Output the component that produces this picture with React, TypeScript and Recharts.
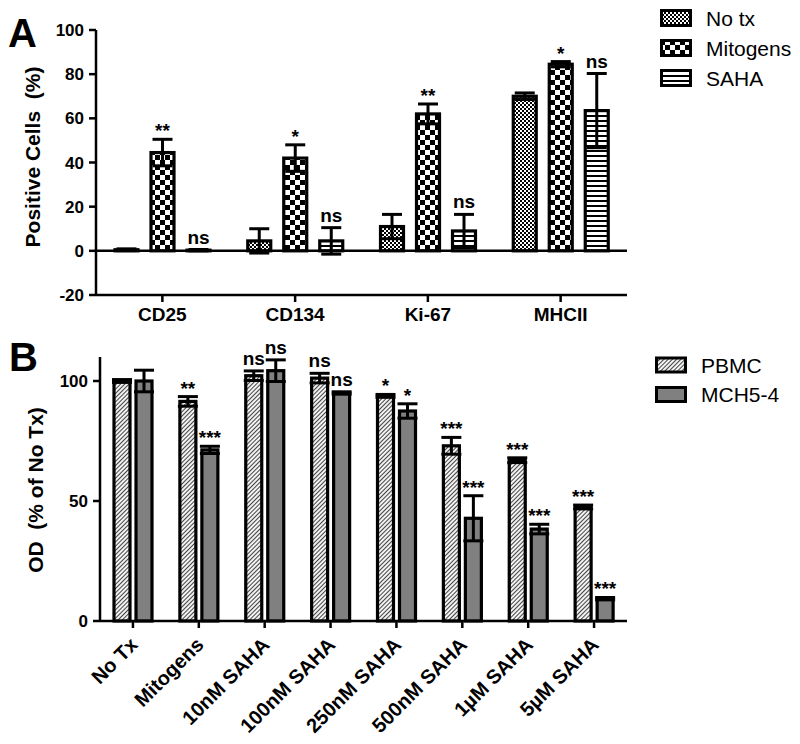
import React from "react";
import { BarChart, Bar, XAxis, YAxis, ErrorBar, ReferenceLine } from "recharts";

const FONT = "'Liberation Sans', Arial, Helvetica, sans-serif";

// Panel A
const catsA = ["CD25", "CD134", "Ki-67", "MHCII"];
const noTxA = [0.5, 4.5, 11, 70];
const noTxErrA = [0.4, 5.5, 5.5, 1.5];
const noTxSigA = ["", "", "", ""];
const mitoA = [44.5, 42, 62, 84.5];
const mitoErrA = [6, 6, 4.5, 1.2];
const mitoSigA = ["**", "*", "**", "*"];
const sahaA = [0.3, 4.5, 9, 63.5];
const sahaErrA = [0.3, 6, 7.5, 16.8];
const sahaSigA = ["ns", "ns", "ns", "ns"];
const ticksA = [-20, 0, 20, 40, 60, 80, 100];

// Panel B
const catsB = ["No Tx", "Mitogens", "10nM SAHA", "100nM SAHA", "250nM SAHA", "500nM SAHA", "1µM SAHA", "5µM SAHA"];
const pbmc = [100, 91.5, 102.2, 101.2, 93.8, 73, 67, 47.5];
const pbmcErr = [0.6, 2, 2, 2, 0.6, 3.5, 1, 0.8];
const pbmcSig = ["", "**", "ns", "ns", "*", "***", "***", "***"];
const mch = [100, 71.3, 104.3, 95, 87.5, 42.8, 38.3, 9.3];
const mchErr = [4.5, 1.5, 4.5, 0.5, 3, 9.4, 2, 0.5];
const mchSig = ["", "***", "ns", "ns", "*", "***", "***", "***"];
const ticksB = [0, 50, 100];

const dataA = catsA.map((cat, i) => ({
  cat,
  noTx: noTxA[i], noTxErr: noTxErrA[i], noTxSig: noTxSigA[i],
  mito: mitoA[i], mitoErr: mitoErrA[i], mitoSig: mitoSigA[i],
  saha: sahaA[i], sahaErr: sahaErrA[i], sahaSig: sahaSigA[i],
}));

const dataB = catsB.map((cat, i) => ({
  cat,
  pbmc: pbmc[i], pbmcErr: pbmcErr[i], pbmcSig: pbmcSig[i],
  mch: mch[i], mchErr: mchErr[i], mchSig: mchSig[i],
}));

const axisStroke = { stroke: "#000", strokeWidth: 2.5 };

// bar rect + significance text above the error bar
function makeShape(key: string, plotTop: number, domMax: number) {
  return (props: any) => {
    const { x, y, width, height, fill, payload } = props;
    const base = y + height;
    const ppu = (base - plotTop) / domMax;
    const errTop = y - (payload[key + "Err"] || 0) * ppu;
    const sig: string = payload[key + "Sig"] || "";
    const off = sig.startsWith("*") ? 2 : 6;
    return (
      <g>
        <rect x={x} y={y} width={width} height={Math.max(height, 0)} fill={fill} stroke="#000" strokeWidth={3.2} />
        {sig && (
          <text x={x + width / 2} y={errTop - off} textAnchor="middle" fontSize={19} fontWeight="bold" fontFamily={FONT} fill="#000">
            {sig}
          </text>
        )}
      </g>
    );
  };
}

const AngledTick = (props: any) => {
  const { x, y, payload } = props;
  const ax = x + 6;
  const ay = y + 16;
  return (
    <text x={ax} y={ay} transform={`rotate(-45, ${ax}, ${ay})`} textAnchor="end" fontSize={20} fontWeight="bold" fontFamily={FONT} fill="#000">
      {payload.value}
    </text>
  );
};

const Patterns = () => (
  <svg width={0} height={0} style={{ position: "absolute" }}>
    <defs>
      <pattern id="fineCheck" width={4} height={4} patternUnits="userSpaceOnUse">
        <rect width={4} height={4} fill="#fff" />
        <rect x={0} y={0} width={2} height={2} fill="#000" />
        <rect x={2} y={2} width={2} height={2} fill="#000" />
      </pattern>
      <pattern id="bigCheck" width={10} height={10} patternUnits="userSpaceOnUse">
        <rect width={10} height={10} fill="#fff" />
        <rect x={0} y={0} width={5} height={5} fill="#000" />
        <rect x={5} y={5} width={5} height={5} fill="#000" />
      </pattern>
      <pattern id="hStripes" width={5} height={5} patternUnits="userSpaceOnUse">
        <rect width={5} height={5} fill="#fff" />
        <rect x={0} y={0} width={5} height={2} fill="#000" />
      </pattern>
      <pattern id="diagHatch" width={3} height={3} patternUnits="userSpaceOnUse" patternTransform="rotate(45)">
        <rect width={3} height={3} fill="#f2f2f2" />
        <line x1={0.5} y1={0} x2={0.5} y2={3} stroke="#444" strokeWidth={1} />
      </pattern>
    </defs>
  </svg>
);

const legendA = [
  { name: "No tx", fill: "url(#fineCheck)" },
  { name: "Mitogens", fill: "url(#bigCheck)" },
  { name: "SAHA", fill: "url(#hStripes)" },
];
const legendB = [
  { name: "PBMC", fill: "url(#diagHatch)" },
  { name: "MCH5-4", fill: "#808080" },
];

export default function App() {
  return (
    <div style={{ position: "absolute", left: 0, top: 0, width: 800, height: 744, background: "#fff", fontFamily: FONT }}>
      <Patterns />
      <div style={{ position: "absolute", left: 0, top: 0 }}>
        <BarChart width={640} height={330} data={dataA} margin={{ top: 30, right: 13, left: 0, bottom: 0 }} barSize={23} barGap={13}>
          <XAxis dataKey="cat" interval={0} height={35} axisLine={axisStroke} tickLine={axisStroke} tickSize={7} tickMargin={6}
            tick={{ fill: "#000", fontSize: 19, fontWeight: "bold", fontFamily: FONT }} />
          <YAxis domain={[-20, 100]} ticks={ticksA} width={96} axisLine={axisStroke} tickLine={axisStroke} tickSize={7} tickMargin={5}
            tick={{ fill: "#000", fontSize: 17, fontWeight: "bold", fontFamily: FONT }} />
          <ReferenceLine y={0} stroke="#000" strokeWidth={2.5} />
          <Bar dataKey="noTx" fill="url(#fineCheck)" shape={makeShape("noTx", 30, 100)} isAnimationActive={false}>
            <ErrorBar dataKey="noTxErr" width={10} strokeWidth={3} stroke="#000" />
          </Bar>
          <Bar dataKey="mito" fill="url(#bigCheck)" shape={makeShape("mito", 30, 100)} isAnimationActive={false}>
            <ErrorBar dataKey="mitoErr" width={10} strokeWidth={3} stroke="#000" />
          </Bar>
          <Bar dataKey="saha" fill="url(#hStripes)" shape={makeShape("saha", 30, 100)} isAnimationActive={false}>
            <ErrorBar dataKey="sahaErr" width={10} strokeWidth={3} stroke="#000" />
          </Bar>
        </BarChart>
      </div>
      <div style={{ position: "absolute", left: 0, top: 330 }}>
        <BarChart width={640} height={414} data={dataB} margin={{ top: 27, right: 13, left: 0, bottom: 0 }} barSize={16} barGap={6}>
          <XAxis dataKey="cat" interval={0} height={123} axisLine={axisStroke} tickLine={axisStroke} tickSize={7} tickMargin={2} tick={<AngledTick />} />
          <YAxis domain={[0, 110]} ticks={ticksB} width={100} axisLine={axisStroke} tickLine={axisStroke} tickSize={7} tickMargin={5}
            tick={{ fill: "#000", fontSize: 17, fontWeight: "bold", fontFamily: FONT }} />
          <Bar dataKey="pbmc" fill="url(#diagHatch)" shape={makeShape("pbmc", 27, 110)} isAnimationActive={false}>
            <ErrorBar dataKey="pbmcErr" width={10} strokeWidth={3} stroke="#000" />
          </Bar>
          <Bar dataKey="mch" fill="#808080" shape={makeShape("mch", 27, 110)} isAnimationActive={false}>
            <ErrorBar dataKey="mchErr" width={10} strokeWidth={3} stroke="#000" />
          </Bar>
        </BarChart>
      </div>
      <svg width={800} height={744} style={{ position: "absolute", left: 0, top: 0, pointerEvents: "none" }}>
        <g fontFamily={FONT} fill="#000">
          <text x={8} y={47} fontSize={40} fontWeight="bold">A</text>
          <text x={9} y={371} fontSize={40} fontWeight="bold">B</text>
          <text x={40} y={157} transform="rotate(-90, 40, 157)" textAnchor="middle" fontSize={21} fontWeight="bold" style={{ whiteSpace: "pre" }}>
            {"Positive Cells  (%)"}
          </text>
          <text x={43} y={490} transform="rotate(-90, 43, 490)" textAnchor="middle" fontSize={21} fontWeight="bold" style={{ whiteSpace: "pre" }}>
            {"OD  (% of No Tx)"}
          </text>
          {legendA.map((d, i) => (
            <g key={d.name}>
              <rect x={661.5} y={18 + i * 30 - 7.5} width={29} height={15} fill={d.fill} stroke="#000" strokeWidth={3} />
              <text x={706} y={18 + i * 30 + 7.5} fontSize={21}>{d.name}</text>
            </g>
          ))}
          {legendB.map((d, i) => (
            <g key={d.name}>
              <rect x={656.5} y={365 + i * 29.5 - 7} width={29} height={14} fill={d.fill} stroke="#000" strokeWidth={3} />
              <text x={701} y={365 + i * 29.5 + 7.5} fontSize={21}>{d.name}</text>
            </g>
          ))}
        </g>
      </svg>
    </div>
  );
}
